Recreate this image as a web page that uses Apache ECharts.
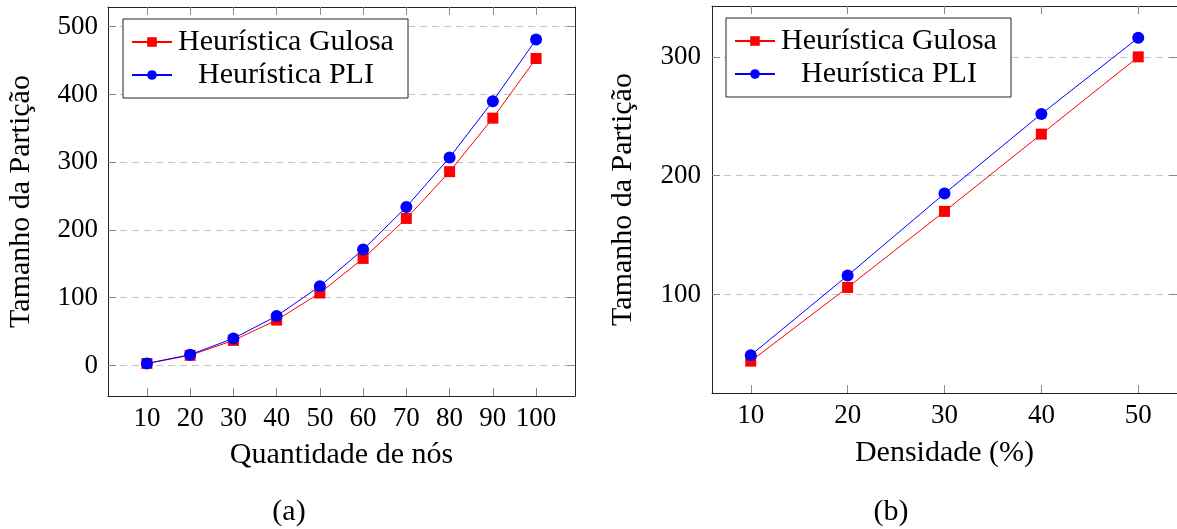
<!DOCTYPE html>
<html>
<head>
<meta charset="utf-8">
<script src="https://cdn.jsdelivr.net/npm/echarts@6/dist/echarts.min.js"></script>
<style>
html,body{margin:0;padding:0;background:#fff;}
#c{width:1177px;height:529px;}
</style>
</head>
<body>
<div id="c"></div>
<script>
// ---- Data ----
const nodesX = [10, 20, 30, 40, 50, 60, 70, 80, 90, 100];
const nodesGulosa = [3, 15, 37, 67, 107, 158, 217, 286, 365, 453];
const nodesPLI = [3, 16, 40, 73, 117, 171, 234, 307, 390, 481];
const nodesYTicks = [0, 100, 200, 300, 400, 500];

const densX = [10, 20, 30, 40, 50];
const densGulosa = [44, 106, 170, 235, 300];
const densPLI = [49, 116, 185, 252, 316];
const densYTicks = [100, 200, 300];

const seriesNames = ['Heurística Gulosa', 'Heurística PLI'];
const xNames = ['Quantidade de nós', 'Densidade (%)'];
const yName = 'Tamanho da Partição';
const captions = ['(a)', '(b)'];

// ---- Styling ----
const FONT = '"Liberation Serif", "Times New Roman", serif';
const AXIS_COLOR = '#222';
const TICK_COLOR = '#888';
const GRID_COLOR = '#c4c4c4';

function pairs(xs, ys) { return xs.map((x, i) => [x, ys[i]]); }

function mainX(grid, min, max, ticks, name, gap) {
  return {
    type: 'value', gridIndex: grid, min: min, max: max, position: 'bottom',
    name: name, nameLocation: 'middle', nameGap: gap,
    nameTextStyle: { fontFamily: FONT, fontSize: 30, color: '#000' },
    axisLine: { show: true, onZero: false, lineStyle: { color: AXIS_COLOR, width: 1 } },
    axisTick: { show: true, inside: true, length: 8, customValues: ticks, lineStyle: { color: TICK_COLOR } },
    axisLabel: { show: true, margin: 9, customValues: ticks, fontFamily: FONT, fontSize: 27, color: '#000' },
    splitLine: { show: false }
  };
}
function topX(grid, min, max, ticks) {
  return {
    type: 'value', gridIndex: grid, min: min, max: max, position: 'top',
    axisLine: { show: true, onZero: false, lineStyle: { color: AXIS_COLOR, width: 1 } },
    axisTick: { show: true, inside: true, length: 8, customValues: ticks, lineStyle: { color: TICK_COLOR } },
    axisLabel: { show: false },
    splitLine: { show: false }
  };
}
function mainY(grid, min, max, ticks, gap, margin) {
  return {
    type: 'value', gridIndex: grid, min: min, max: max, position: 'left',
    name: yName, nameLocation: 'middle', nameGap: gap,
    nameTextStyle: { fontFamily: FONT, fontSize: 30, color: '#000' },
    axisLine: { show: true, onZero: false, lineStyle: { color: AXIS_COLOR, width: 1 } },
    axisTick: { show: true, inside: true, length: 8, customValues: ticks, lineStyle: { color: TICK_COLOR } },
    axisLabel: { show: true, margin: margin, customValues: ticks, fontFamily: FONT, fontSize: 27, color: '#000' },
    splitLine: { show: true, lineStyle: { color: GRID_COLOR, type: [7, 5], width: 1 } }
  };
}
function rightY(grid, min, max, ticks) {
  return {
    type: 'value', gridIndex: grid, min: min, max: max, position: 'right',
    axisLine: { show: true, onZero: false, lineStyle: { color: AXIS_COLOR, width: 1 } },
    axisTick: { show: true, inside: true, length: 8, customValues: ticks, lineStyle: { color: TICK_COLOR } },
    axisLabel: { show: false },
    splitLine: { show: false }
  };
}
function legendAt(left, top) {
  return {
    orient: 'vertical', left: left, top: top,
    padding: [8, 13, 8, 8], itemGap: 3, itemWidth: 40, itemHeight: 12,
    borderColor: '#222', borderWidth: 1, backgroundColor: '#fff',
    data: seriesNames,
    formatter: function (n) { return '{t|' + n + '}'; },
    textStyle: {
      rich: { t: { width: 218, align: 'center', fontFamily: FONT, fontSize: 30, lineHeight: 33, color: '#000' } }
    }
  };
}
function lineSeries(name, xi, yi, data, color, symbol, size) {
  return {
    name: name, type: 'line', xAxisIndex: xi, yAxisIndex: yi, data: data,
    symbol: symbol, symbolSize: size, showSymbol: true,
    lineStyle: { color: color, width: 1 }, itemStyle: { color: color },
    animation: false
  };
}

const chart = echarts.init(document.getElementById('c'), null, { renderer: 'canvas' });
chart.setOption({
  animation: false,
  backgroundColor: '#fff',
  grid: [
    { left: 108, top: 7, width: 467, height: 389 },
    { left: 712, top: 6, width: 466, height: 387 }
  ],
  xAxis: [
    mainX(0, 1, 109, nodesX, xNames[0], 44),
    topX(0, 1, 109, nodesX),
    mainX(1, 6, 54, densX, xNames[1], 45),
    topX(1, 6, 54, densX)
  ],
  yAxis: [
    mainY(0, -45, 529, nodesYTicks, 72, 10),
    rightY(0, -45, 529, nodesYTicks),
    mainY(1, 17.2, 342.8, densYTicks, 74, 11),
    rightY(1, 17.2, 342.8, densYTicks)
  ],
  legend: [legendAt(123, 19), legendAt(726, 18)],
  series: [
    lineSeries(seriesNames[0], 0, 0, pairs(nodesX, nodesGulosa), '#ff0000', 'rect', 11),
    lineSeries(seriesNames[1], 0, 0, pairs(nodesX, nodesPLI), '#0000ff', 'circle', 12),
    lineSeries(seriesNames[0], 2, 2, pairs(densX, densGulosa), '#ff0000', 'rect', 11),
    lineSeries(seriesNames[1], 2, 2, pairs(densX, densPLI), '#0000ff', 'circle', 12)
  ],
  graphic: [
    { type: 'text', x: 289, y: 512, style: { text: captions[0], font: '30px ' + FONT, fill: '#000', textAlign: 'center', textVerticalAlign: 'middle' } },
    { type: 'text', x: 891, y: 512, style: { text: captions[1], font: '30px ' + FONT, fill: '#000', textAlign: 'center', textVerticalAlign: 'middle' } }
  ]
});
</script>
</body>
</html>
